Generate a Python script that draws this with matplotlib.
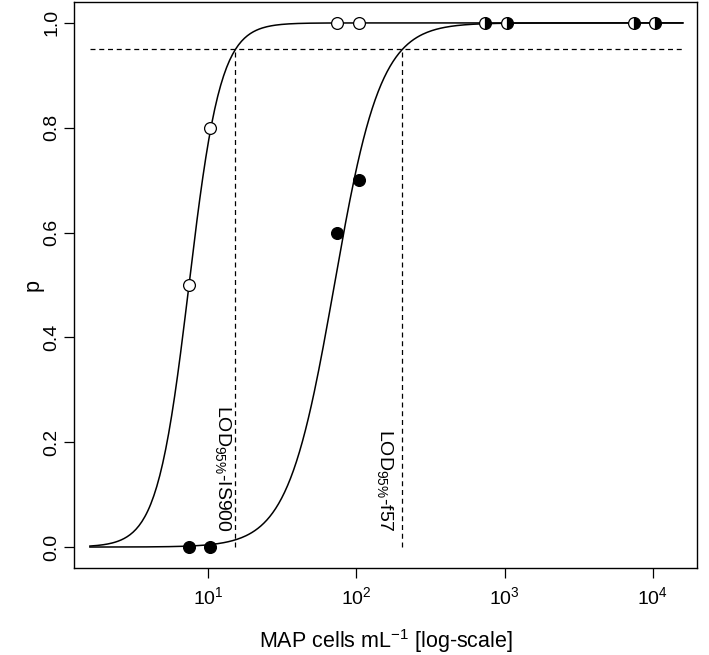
import numpy as np
import matplotlib
matplotlib.use("Agg")
import matplotlib.pyplot as plt

plt.rcParams['font.family'] = ['Liberation Sans', 'DejaVu Sans']
plt.rcParams['mathtext.fontset'] = 'custom'
plt.rcParams['mathtext.rm'] = 'Liberation Sans'
plt.rcParams['mathtext.it'] = 'Liberation Sans:italic'

# observed detection proportions
conc_open = [7.4, 10.4, 74, 104]          # IS900 only (open)
p_open = [0.5, 0.8, 1.0, 1.0]
conc_filled = [7.4, 10.4, 74, 104]        # f57 (filled)
p_filled = [0.0, 0.0, 0.6, 0.7]
conc_half = [740, 1040, 7400, 10400]      # both detected
p_half = [1.0, 1.0, 1.0, 1.0]

# logistic fits on log10 scale: (log10 x50, slope)
fit_is900 = (0.872, 9.37)
fit_f57 = (1.852, 6.4)
lod_is900 = 15.3
lod_f57 = 204
x_range = (1.6, 15900)


def logistic(x, fit):
    x50, b = fit
    return 1.0 / (1.0 + np.exp(-b * (np.log10(x) - x50)))


fig = plt.figure(figsize=(7.09, 6.55), dpi=100)
ax = fig.add_axes([0.1044, 0.1328, 0.8786, 0.8642])

xs = np.logspace(np.log10(x_range[0]), np.log10(x_range[1]), 400)
ax.plot(xs, logistic(xs, fit_is900), color='black', lw=1.1)
ax.plot(xs, logistic(xs, fit_f57), color='black', lw=1.1)

# LOD95 reference lines
ax.hlines(0.95, x_range[0], x_range[1], colors='black', linestyles=(0, (4, 3)), lw=0.9)
ax.vlines([lod_is900, lod_f57], 0, 0.95, colors='black', linestyles=(0, (4, 3)), lw=0.9)

ms = 8.5
ax.plot(conc_open, p_open, 'o', ms=ms, mfc='white', mec='black', mew=0.9, ls='none')
ax.plot(conc_filled, p_filled, 'o', ms=ms, mfc='black', mec='black', mew=0.9, ls='none')
ax.plot(conc_half, p_half, 'o', ms=ms, fillstyle='right', mfc='black',
        markerfacecoloralt='white', mec='black', mew=0.9, ls='none')

ax.annotate(r'LOD$_{95\%}$-IS900', xy=(lod_is900, 0.03), xytext=(-2, 0),
            textcoords='offset points', rotation=270, ha='right', va='bottom',
            fontsize=14)
ax.annotate(r'LOD$_{95\%}$-f57', xy=(lod_f57, 0.03), xytext=(-5, 0),
            textcoords='offset points', rotation=270, ha='right', va='bottom',
            fontsize=14)

ax.set_xscale('log')
ax.set_xlim(1.25, 19800)
ax.set_ylim(-0.04, 1.04)
ax.set_xticks([10, 100, 1000, 10000])
ax.set_xticklabels([r'10$^{1}$', r'10$^{2}$', r'10$^{3}$', r'10$^{4}$'])
ax.xaxis.set_minor_locator(matplotlib.ticker.NullLocator())
ax.set_yticks([0.0, 0.2, 0.4, 0.6, 0.8, 1.0])
ax.set_yticklabels(['0.0', '0.2', '0.4', '0.6', '0.8', '1.0'], rotation=90, va='center')
ax.tick_params(axis='both', labelsize=14, length=7, width=0.9)
ax.tick_params(axis='y', pad=3)
ax.tick_params(axis='x', pad=6)

ax.set_xlabel(r'MAP cells mL$^{-1}$ [log-scale]', fontsize=15.5, labelpad=14)
ax.set_ylabel('p', fontsize=15.5, labelpad=0)
for s in ax.spines.values():
    s.set_linewidth(1.0)

fig.savefig('out.png', dpi=100)
